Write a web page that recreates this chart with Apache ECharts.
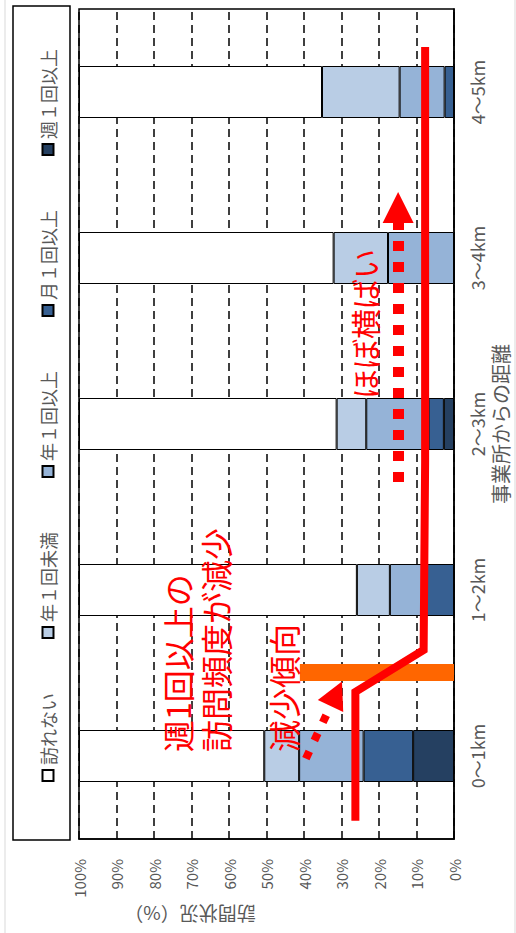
<!DOCTYPE html>
<html>
<head>
<meta charset="utf-8">
<script src="https://cdn.jsdelivr.net/npm/echarts@6/dist/echarts.min.js"></script>
<style>
  html, body { margin: 0; padding: 0; background: #fff; width: 516px; height: 933px; overflow: hidden; }
  /* the chart is laid out landscape and turned a quarter turn to stand upright */
  #chart { position: absolute; left: 0; top: 933px; width: 933px; height: 516px;
           transform-origin: 0 0; transform: rotate(-90deg); }
</style>
</head>
<body>
<div id="chart"></div>
<script>
// distance bands from the office
const categories = ['0～1km', '1～2km', '2～3km', '3～4km', '4～5km'];

// visit frequency shares (%), stacked from the most frequent upward
const weeklyOrMore     = [10.9, 0,    2.7,  0,    0];
const monthlyOrMore    = [13.2, 7.6,  4.1,  0,    2.5];
const yearlyOrMore     = [17.2, 9.5,  16.6, 17.6, 12.0];
const lessThanYearly   = [9.3,  8.8,  7.9,  14.5, 20.7];
const noVisit          = [49.4, 74.1, 68.7, 67.9, 64.8];

// value axis tick labels
const valueTicks  = [0, 10, 20, 30, 40, 50, 60, 70, 80, 90, 100];
const valueLabels = ['0%', '10%', '20%', '30%', '40%', '50%', '60%', '70%', '80%', '90%', '100%'];

// hand-drawn annotations, in [band position (0..5), percent]
const trendLine     = [[0.11, 26.3], [0.886, 26.3], [1.139, 8.1], [2.27, 7.7], [4.771, 7.7]];
const dividerBar    = [[1.003, 0], [1.003, 41.1]];
const decreaseArrow = [[0.484, 39.5], [0.875, 31.4]];
const flatArrow     = [[2.151, 14.9], [3.804, 14.9]];

const FONT = '"Noto Sans CJK JP", "Noto Sans", sans-serif';
const GREY = '#595959';
const RED = '#FF0000';

const chart = echarts.init(document.getElementById('chart'), null, { renderer: 'svg' });

function barSeries(name, data, color) {
  return {
    name: name, type: 'bar', stack: 'share', data: data,
    xAxisIndex: 0, yAxisIndex: 0, barWidth: 52,
    itemStyle: { color: color, borderColor: '#000', borderWidth: 1 },
    emphasis: { disabled: true }, silent: true
  };
}

function arrowSeries(points, width, dash, head) {
  return {
    type: 'line', xAxisIndex: 1, yAxisIndex: 0, data: [], silent: true, z: 7,
    markLine: {
      silent: true, animation: false,
      symbol: ['none', 'triangle'], symbolSize: head,
      label: { show: false }, emphasis: { disabled: true },
      lineStyle: { color: RED, width: width, type: dash, cap: 'butt', opacity: 1 },
      data: [[{ coord: points[0] }, { coord: points[1] }]]
    }
  };
}

chart.setOption({
  animation: false,
  backgroundColor: '#fff',
  textStyle: { fontFamily: FONT },
  legend: {
    data: ['訪れない', '年１回未満', '年１回以上', '月１回以上', '週１回以上'],
    left: 146, top: 34, icon: 'rect', itemWidth: 11, itemHeight: 11, itemGap: 54,
    textStyle: { fontSize: 18, color: GREY, fontFamily: FONT },
    selectedMode: false
  },
  grid: { left: 94, right: 9, top: 79, bottom: 62, show: true, borderColor: '#000', borderWidth: 1.5, backgroundColor: '#fff' },
  xAxis: [
    {
      type: 'category', data: categories, position: 'bottom',
      axisLine: { show: true, lineStyle: { color: '#000', width: 1.5 } },
      axisTick: { show: false },
      axisLabel: { fontSize: 18, color: GREY, margin: 14, fontFamily: FONT },
      name: '事業所からの距離', nameLocation: 'middle', nameGap: 35,
      nameTextStyle: { fontSize: 20, color: GREY, fontFamily: FONT }
    },
    { type: 'value', min: 0, max: 5, show: false }
  ],
  yAxis: {
    type: 'value', min: 0, max: 100, interval: 10,
    axisLine: { show: true, lineStyle: { color: '#000', width: 1.5 } },
    axisTick: { show: false },
    axisLabel: {
      fontSize: 15, color: GREY, margin: 20, fontFamily: FONT,
      formatter: v => valueLabels[valueTicks.indexOf(v)]
    },
    splitLine: { show: true, lineStyle: { color: '#000', width: 1.5, type: [8, 5] } }
  },
  series: [
    barSeries('週１回以上', weeklyOrMore, '#254061'),
    barSeries('月１回以上', monthlyOrMore, '#376092'),
    barSeries('年１回以上', yearlyOrMore, '#95B3D7'),
    barSeries('年１回未満', lessThanYearly, '#B9CDE5'),
    barSeries('訪れない', noVisit, '#FFFFFF'),
    {
      type: 'line', xAxisIndex: 1, yAxisIndex: 0, data: dividerBar, z: 5,
      showSymbol: false, silent: true,
      lineStyle: { color: '#FF6600', width: 17, cap: 'butt' }
    },
    {
      type: 'line', xAxisIndex: 1, yAxisIndex: 0, data: trendLine, z: 6,
      showSymbol: false, silent: true,
      lineStyle: { color: RED, width: 8, cap: 'butt', join: 'miter' }
    },
    arrowSeries(decreaseArrow, 8, [8, 12], [28, 27]),
    arrowSeries(flatArrow, 11, [10, 11], [31, 31])
  ],
  graphic: [
    { type: 'rect', silent: true, z: -10, shape: { x: -2, y: 5, width: 937, height: 510 },
      style: { fill: null, stroke: '#D9D9D9', lineWidth: 1 } },
    { type: 'rect', silent: true, shape: { x: 93, y: 13, width: 834, height: 57 },
      style: { fill: null, stroke: '#000', lineWidth: 1.5 } },
    { type: 'text', silent: true, x: 19, y: 190, rotation: Math.PI / 2,
      style: { text: '訪問状況（%）', fill: GREY, font: '19px ' + FONT, textAlign: 'center', textVerticalAlign: 'middle' } },
    { type: 'text', silent: true, z: 20, x: 181, y: 176.5,
      style: { text: '週1回以上の', fill: RED, font: '32px ' + FONT, textAlign: 'left', textVerticalAlign: 'middle' } },
    { type: 'text', silent: true, z: 20, x: 181, y: 215,
      style: { text: '訪問頻度が減少', fill: RED, font: '32px ' + FONT, textAlign: 'left', textVerticalAlign: 'middle' } },
    { type: 'text', silent: true, z: 20, x: 181, y: 283,
      style: { text: '減少傾向', fill: RED, font: '32px ' + FONT, textAlign: 'left', textVerticalAlign: 'middle' } },
    { type: 'text', silent: true, z: 20, x: 534, y: 364,
      style: { text: 'ほぼ横ばい', fill: RED, font: '30px ' + FONT, textAlign: 'left', textVerticalAlign: 'middle' } }
  ]
});
</script>
</body>
</html>
